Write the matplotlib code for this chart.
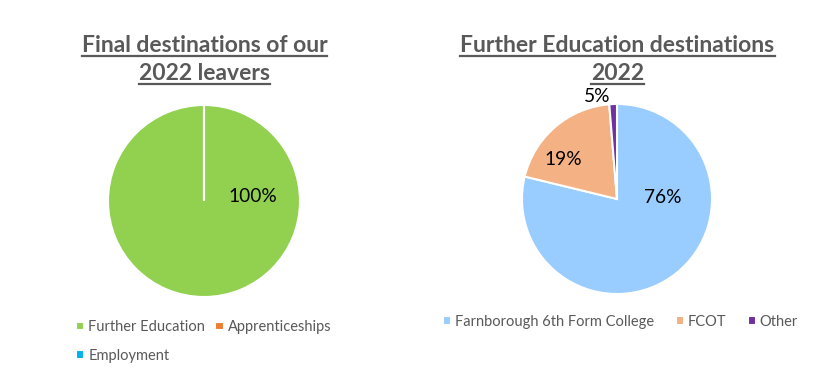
import matplotlib
matplotlib.use("Agg")
from matplotlib import pyplot as plt
from matplotlib.lines import Line2D

plt.rcParams['font.family'] = ['Lato', 'DejaVu Sans']

# left chart
dest_names = ['Further Education', 'Apprenticeships', 'Employment']
dest_vals = [100, 0, 0]
dest_labels = ['100%', '', '']
dest_colors = ['#92D050', '#ED7D31', '#00B0F0']

# right chart
fe_names = ['Farnborough 6th Form College', 'FCOT', 'Other']
fe_vals = [78.8, 19.9, 1.3]
fe_labels = ['76%', '19%', '5%']
fe_colors = ['#99CCFF', '#F4B183', '#7030A0']

gray = '#595959'
W, H = 827, 391
fig = plt.figure(figsize=(W / 100, H / 100), dpi=100)


def pie_axes(cx, cy, r):
    # cx, cy, r in pixels, cy from top
    return fig.add_axes([(cx - r) / W, (H - cy - r) / H, 2 * r / W, 2 * r / H])


a1 = pie_axes(204, 201, 96)
w1, _ = a1.pie(dest_vals, colors=dest_colors, startangle=90, counterclock=False,
               wedgeprops=dict(edgecolor='white', linewidth=1.5))
a1.set_xlim(-1, 1); a1.set_ylim(-1, 1)
a1.text(0.51, 0.05, dest_labels[0], ha='center', va='center', fontsize=13.8, color='#000000')

a2 = pie_axes(617, 199, 95)
w2, _ = a2.pie(fe_vals, colors=fe_colors, startangle=90, counterclock=False,
               wedgeprops=dict(edgecolor='white', linewidth=1.5))
a2.set_xlim(-1, 1); a2.set_ylim(-1, 1)
lab_pos = [(0.48, 0.02), (-0.57, 0.42), (-0.21, 1.08)]
for (x, y), t in zip(lab_pos, fe_labels):
    a2.text(x, y, t, ha='center', va='center', fontsize=13.8, color='#000000')

# legend fills column by column, so reorder to read row by row
order = [0, 2, 1]
fig.legend([w1[i] for i in order], [dest_names[i] for i in order],
           loc='center left', bbox_to_anchor=(76 / W, 1 - 341.5 / H),
           ncol=2, frameon=False, fontsize=10.5, labelcolor=gray,
           handlelength=0.55, handleheight=0.55, handletextpad=0.3, columnspacing=0.7,
           labelspacing=1.0, borderpad=0, borderaxespad=0)
fig.legend(w2, fe_names, loc='center', bbox_to_anchor=(620.5 / W, 1 - 322 / H),
           ncol=3, frameon=False, fontsize=10.5, labelcolor=gray,
           handlelength=0.55, handleheight=0.55, handletextpad=0.25, columnspacing=1.5,
           borderpad=0, borderaxespad=0)

titles = [('Final destinations of our', 204.5, 45), ('2022 leavers', 204.5, 73),
          ('Further Education destinations', 617.5, 45), ('2022', 617.5, 73)]
tobjs = []
for s, x, y in titles:
    tobjs.append(fig.text(x / W, 1 - y / H, s, ha='center', va='center', fontsize=16.5,
                          fontweight='bold', color=gray))

fig.canvas.draw()
r = fig.canvas.get_renderer()
for t in tobjs:
    bb = t.get_window_extent(r)
    yl = bb.y0
    fig.add_artist(Line2D([bb.x0 / W, bb.x1 / W], [yl / H, yl / H], color=gray, lw=1.6,
                          transform=fig.transFigure))

fig.savefig('out.png', dpi=100)
